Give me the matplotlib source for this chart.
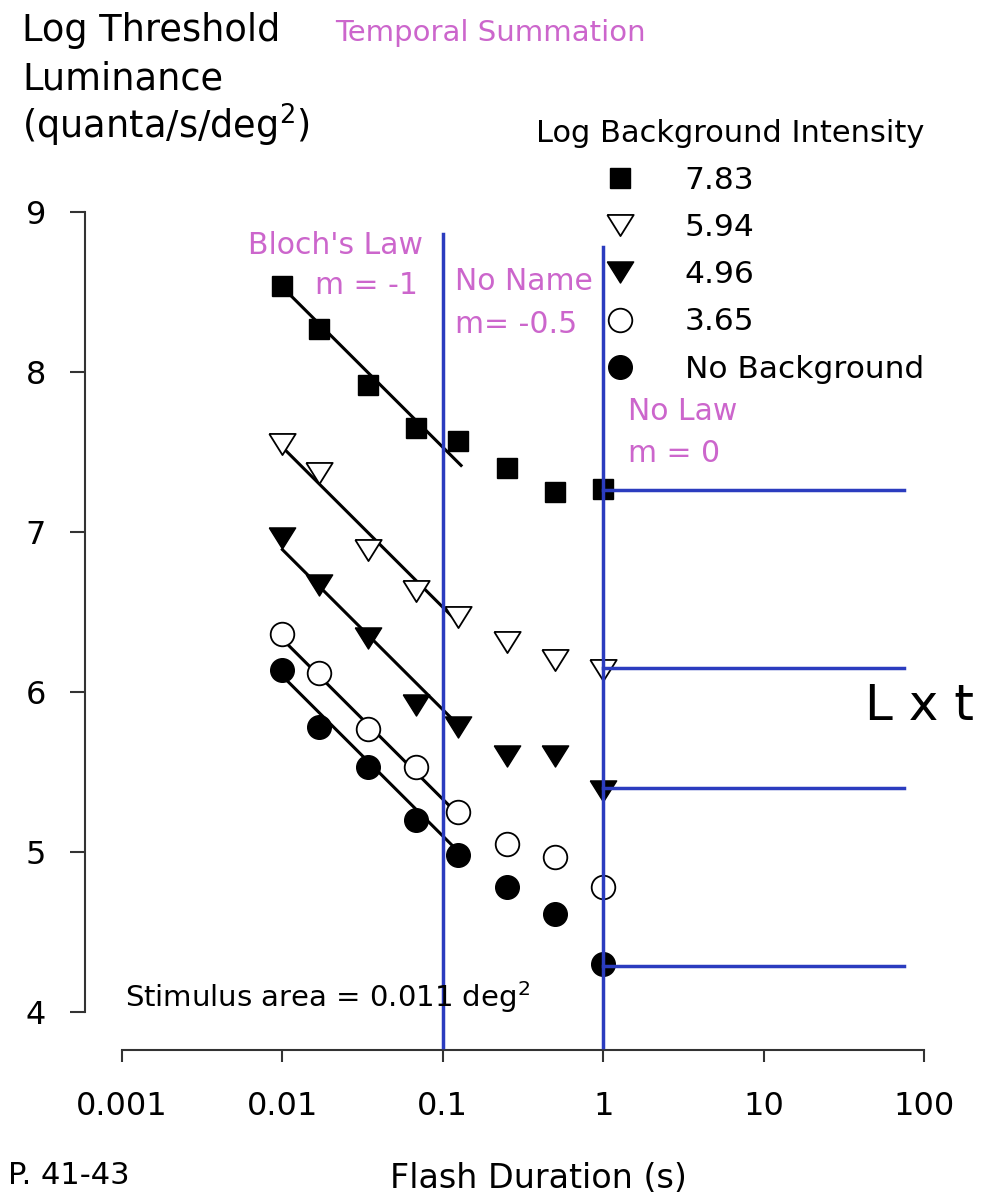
import numpy as np
import matplotlib
matplotlib.use("Agg")
import matplotlib.pyplot as plt

# flash durations (s) and log threshold luminance per background
durations = [0.01, 0.017, 0.034, 0.068, 0.125, 0.25, 0.5, 1.0]
bg_labels = ["7.83", "5.94", "4.96", "3.65", "No Background"]
thr_783 = [8.54, 8.27, 7.92, 7.65, 7.57, 7.40, 7.25, 7.27]
thr_594 = [7.55, 7.37, 6.89, 6.63, 6.47, 6.31, 6.20, 6.14]
thr_496 = [6.96, 6.67, 6.34, 5.92, 5.78, 5.60, 5.60, 5.38]
thr_365 = [6.36, 6.12, 5.77, 5.53, 5.25, 5.05, 4.97, 4.78]
thr_none = [6.14, 5.78, 5.53, 5.20, 4.98, 4.78, 4.61, 4.30]

# Bloch's law fits (slope -1) : value at t=0.01 and end duration
fit_y0 = [8.53, 7.53, 6.89, 6.33, 6.10]
fit_end = [0.13, 0.125, 0.125, 0.125, 0.12]
bloch_slope = -1.0

# region borders and plateau (L x t) levels
borders = [0.1, 1.0]
border_tops = [8.86, 8.78]
plateau_levels = [7.26, 6.15, 5.40, 4.29]
plateau_end = 75

BLUE = "#2b3cbf"
MAG = "#cc66cc"
W, H = 988, 1200

def fx(px):
    return px / W

def fy(py):
    return 1 - py / H

fig = plt.figure(figsize=(W / 100, H / 100), dpi=100)
ax = fig.add_axes([fx(122), fy(1050), (924 - 122) / W, (1050 - 212) / H])
ax.set_xscale("log")
ax.set_xlim(0.001, 100)
ax.set_ylim(4 - 38 / 160, 9)

tri = [(-1, 0.8), (1, 0.8), (0, -0.8), (-1, 0.8)]
styles = [
    dict(marker="s", ms=15, mfc="black", mec="black"),
    dict(marker=tri, ms=19, mfc="white", mec="black", mew=1.3),
    dict(marker=tri, ms=19, mfc="black", mec="black"),
    dict(marker="o", ms=17, mfc="white", mec="black", mew=1.3),
    dict(marker="o", ms=17, mfc="black", mec="black"),
]
series = [thr_783, thr_594, thr_496, thr_365, thr_none]

handles = []
for vals, st, lab in zip(series, styles, bg_labels):
    h, = ax.plot(durations, vals, ls="none", zorder=3, label=lab, **st)
    handles.append(h)

for y0, t_end in zip(fit_y0, fit_end):
    t = np.array([0.01, t_end])
    ax.plot(t, y0 + bloch_slope * (np.log10(t) + 2), color="black", lw=2.2, zorder=2)

for xb, top in zip(borders, border_tops):
    ax.plot([xb, xb], [3.78, top], color=BLUE, lw=2.5, zorder=4, clip_on=False)
for lv in plateau_levels:
    ax.plot([1.0, plateau_end], [lv, lv], color=BLUE, lw=2.5, zorder=4)

# axes styling
for s in ["top", "right"]:
    ax.spines[s].set_visible(False)
ax.spines["left"].set_position(("outward", 26.6))
ax.spines["left"].set_bounds(4, 9)
for s in ["left", "bottom"]:
    ax.spines[s].set_linewidth(1.5)
    ax.spines[s].set_color("#333333")
ax.set_yticks([4, 5, 6, 7, 8, 9])
ax.set_xticks([0.001, 0.01, 0.1, 1, 10, 100])
ax.set_xticklabels(["0.001", "0.01", "0.1", "1", "10", "100"])
ax.minorticks_off()
ax.tick_params(axis="x", length=8.5, width=1.5, pad=21, labelsize=23, color="#333333")
ax.tick_params(axis="y", length=11, width=1.5, pad=17, labelsize=23, color="#333333")

leg = ax.legend(handles=handles, title="Log Background Intensity", frameon=False,
                loc="upper right", bbox_to_anchor=(fx(924), fy(119)),
                bbox_transform=fig.transFigure, fontsize=22.5, title_fontsize=22,
                borderpad=0, borderaxespad=0, handlelength=1.0, handletextpad=1.58,
                labelspacing=0.58, alignment="right")

# texts
fig.text(fx(22), fy(41), "Log Threshold", fontsize=26.5, va="baseline")
fig.text(fx(22), fy(89), "Luminance", fontsize=26.5, va="baseline")
fig.text(fx(22), fy(139), "(quanta/s/deg$^2$)", fontsize=26.5, va="baseline")
fig.text(fx(335), fy(41), "Temporal Summation", fontsize=21, color=MAG, va="baseline")
fig.text(fx(248), fy(254), "Bloch's Law", fontsize=21.5, color=MAG, va="baseline")
fig.text(fx(315), fy(294), "m = -1", fontsize=21.5, color=MAG, va="baseline")
fig.text(fx(455), fy(290), "No Name", fontsize=21.5, color=MAG, va="baseline")
fig.text(fx(455), fy(333), "m= -0.5", fontsize=21.5, color=MAG, va="baseline")
fig.text(fx(628), fy(420), "No Law", fontsize=21.5, color=MAG, va="baseline")
fig.text(fx(628), fy(462), "m = 0", fontsize=21.5, color=MAG, va="baseline")
fig.text(fx(865), fy(720), "L x t", fontsize=36, va="baseline")
fig.text(fx(125), fy(1007), "Stimulus area = 0.011 deg$^2$", fontsize=21, va="baseline")
fig.text(fx(8), fy(1184), "P. 41-43", fontsize=22, va="baseline")
fig.text(fx(538), fy(1188), "Flash Duration (s)", fontsize=24, va="baseline", ha="center")

fig.savefig("out.png", dpi=100)
